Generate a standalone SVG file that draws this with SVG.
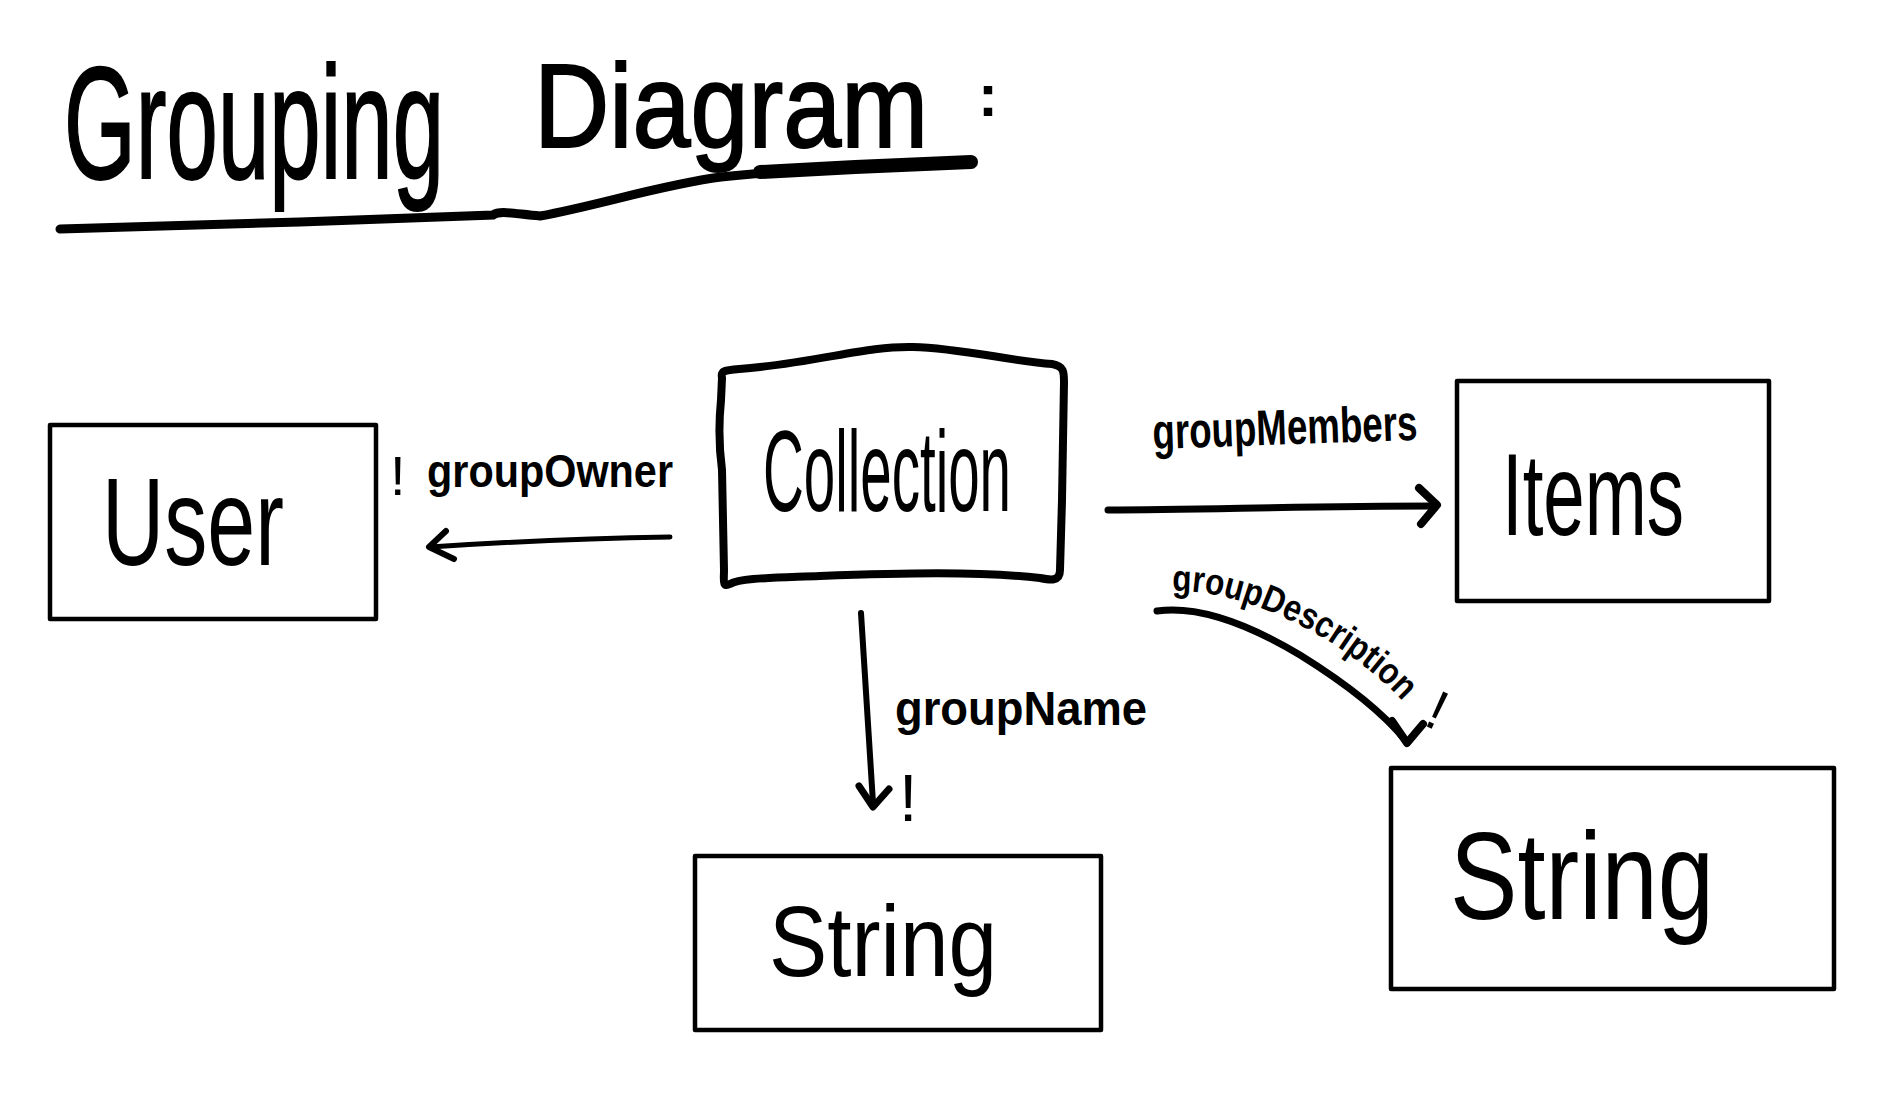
<svg xmlns="http://www.w3.org/2000/svg" width="1884" height="1096" viewBox="0 0 1884 1096">
<style>
  .box{fill:#fff;stroke:#000;stroke-width:4.5;stroke-linejoin:round}
  .hand{font-family:"Liberation Sans","DejaVu Sans",sans-serif;fill:#000}
  .lbl{font-family:"Liberation Sans","DejaVu Sans",sans-serif;font-weight:bold;fill:#000}
  .thin{font-family:"Liberation Sans","DejaVu Sans",sans-serif;font-weight:normal;fill:#000}
  .wire{fill:none;stroke:#000;stroke-linecap:round;stroke-linejoin:round}
</style>
<rect width="1884" height="1096" fill="#fff"/>
<g id="title">
  <text class="hand" x="64" y="178" font-size="160" textLength="380" lengthAdjust="spacingAndGlyphs" stroke="#000" stroke-width="2">Grouping</text>
  <text class="hand" x="534" y="147" font-size="118" textLength="394" lengthAdjust="spacingAndGlyphs" stroke="#000" stroke-width="2">Diagram</text>
  <text class="hand" x="978" y="116" font-size="60" font-weight="bold">:</text>
  <path d="M60,229 L300,222 L493,215 C500,210 515,214 540,216 C600,205 660,185 721,177 C800,168 900,166 971,164" fill="none" stroke="#000" stroke-width="9" stroke-linecap="round"/>
  <path d="M760,172 C850,167 920,164 971,162" fill="none" stroke="#000" stroke-width="14" stroke-linecap="round"/>
</g>
<g id="node-user">
  <rect class="box" x="50" y="425" width="326" height="194"/>
  <text class="hand" x="102" y="565" font-size="125" textLength="182" lengthAdjust="spacingAndGlyphs">User</text>
</g>
<g id="node-collection">
  <path d="M722,378 C720,368 728,371 760,367 C830,359 870,346 913,347 C960,348 1010,361 1052,364 C1064,366 1064,372 1064,382 L1062,500 L1060,570 C1060,582 1050,580 1040,578 C980,571 900,573 820,576 C770,578 740,578 730,584 C722,588 724,580 724,570 L722,470 C718,440 719,420 721,400 Z" fill="#fff" stroke="#000" stroke-width="8" stroke-linejoin="round"/>
  <text class="hand" x="763" y="511" font-size="115" textLength="248" lengthAdjust="spacingAndGlyphs">Collection</text>
</g>
<g id="node-items">
  <rect class="box" x="1457" y="381" width="312" height="220"/>
  <text class="hand" x="1502" y="535" font-size="117" textLength="182" lengthAdjust="spacingAndGlyphs">Items</text>
</g>
<g id="node-string-name">
  <rect class="box" x="695" y="856" width="406" height="174"/>
  <text class="hand" x="769" y="976" font-size="100" textLength="228" lengthAdjust="spacingAndGlyphs">String</text>
</g>
<g id="node-string-desc">
  <rect class="box" x="1391" y="768" width="443" height="221"/>
  <text class="hand" x="1450" y="919" font-size="125" textLength="264" lengthAdjust="spacingAndGlyphs">String</text>
</g>
<g id="connectors">
  <g id="edge-owner">
    <path class="wire" stroke-width="5" d="M670,537 C600,538 520,541 430,547"/>
    <path class="wire" stroke-width="6" d="M446,531 L429,547 L454,559"/>
    <text class="thin" x="390" y="495" font-size="56">!</text>
    <text class="lbl" x="427" y="487" font-size="46" textLength="246" lengthAdjust="spacingAndGlyphs">groupOwner</text>
  </g>
  <g id="edge-members">
    <path class="wire" stroke-width="7" d="M1108,510 C1200,510 1300,506 1434,506"/>
    <path class="wire" stroke-width="8" d="M1419,488 L1437,505 L1421,524"/>
    <text class="lbl" x="1153" y="449" font-size="50" textLength="265" lengthAdjust="spacingAndGlyphs" transform="rotate(-2 1153 449)">groupMembers</text>
  </g>
  <g id="edge-name">
    <path class="wire" stroke-width="6" d="M861,613 L873,803"/>
    <path class="wire" stroke-width="7" d="M859,786 L873,807 L889,789"/>
    <text class="lbl" x="895" y="725" font-size="48" textLength="252" lengthAdjust="spacingAndGlyphs">groupName</text>
    <text class="thin" x="899" y="821" font-size="66">!</text>
  </g>
  <g id="edge-desc">
    <path class="wire" stroke-width="7" d="M1157,611 C1200,605 1250,625 1300,655 C1350,686 1385,715 1406,741"/>
    <path class="wire" stroke-width="8" d="M1392,721 L1407,743 L1423,724"/>
    <path id="descpath" fill="none" d="M1172,591 C1225,590 1280,612 1330,642 C1370,668 1400,695 1420,722"/>
    <text class="lbl" font-size="37"><textPath href="#descpath" textLength="262" lengthAdjust="spacingAndGlyphs">groupDescription</textPath></text>
    <text class="thin" x="1432" y="730" font-size="56" transform="rotate(25 1440 705)">!</text>
  </g>
</g>
</svg>
